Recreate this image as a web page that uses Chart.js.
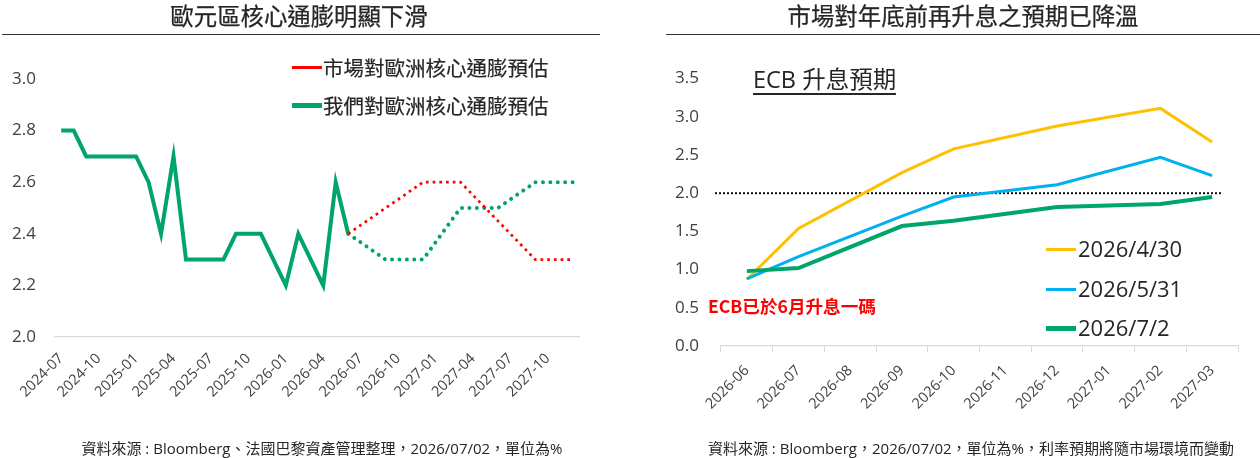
<!DOCTYPE html>
<html><head><meta charset="utf-8">
<script src="https://cdn.jsdelivr.net/npm/chart.js@4.4.1/dist/chart.umd.min.js"></script>
<style>
html,body{margin:0;padding:0;background:#fff;width:1260px;height:458px;overflow:hidden;position:relative;font-family:"Open Sans","Noto Sans CJK TC",sans-serif;color:#262626}
.abs{position:absolute;white-space:nowrap}
.title{font-family:"Noto Sans CJK TC",sans-serif;font-size:23.4px;line-height:30px;top:0px;transform:translateX(-50%);color:#262626;-webkit-text-stroke:0.25px #262626}
.rule{position:absolute;height:0;border-top:1.4px solid #333}
.note{font-size:15px;line-height:20px;top:438px;transform:translateX(-50%);color:#262626}
.lg{font-size:20.5px;line-height:28px;font-family:"Noto Sans CJK TC",sans-serif;-webkit-text-stroke:0.2px #262626}
.lgr{font-size:22px;line-height:30px;font-family:"Open Sans",sans-serif}
.sw{position:absolute}
canvas{position:absolute;top:0}
</style></head>
<body>
<canvas id="c1" width="630" height="458" style="left:0"></canvas>
<canvas id="c2" width="630" height="458" style="left:630px"></canvas>

<div class="abs title" style="left:299px">歐元區核心通膨明顯下滑</div>
<div class="rule" style="left:2px;width:598px;top:34px"></div>
<div class="abs title" style="left:963px">市場對年底前再升息之預期已降溫</div>
<div class="rule" style="left:666px;width:594px;top:34px"></div>

<div class="sw" style="left:292px;top:65.5px;width:30px;height:3px;background:#FF0000"></div>
<div class="abs lg" style="left:323px;top:53px">市場對歐洲核心通膨預估</div>
<div class="sw" style="left:292px;top:102.5px;width:30px;height:5px;background:#00A56C"></div>
<div class="abs lg" style="left:323px;top:91px">我們對歐洲核心通膨預估</div>

<div class="abs" style="left:753px;top:66px;font-family:'Open Sans','Noto Sans CJK TC',sans-serif;font-size:23.5px;line-height:27px;color:#262626;border-bottom:2px solid #262626;padding-bottom:0px">ECB 升息預期</div>
<div class="abs" style="left:708px;top:293px;font-family:'Noto Sans CJK TC',sans-serif;font-weight:bold;font-size:17.6px;line-height:26px;color:#FF0000">ECB已於6月升息一碼</div>

<div class="sw" style="left:1046px;top:247.5px;width:30px;height:3px;background:#FFC000"></div>
<div class="abs lgr" style="left:1078px;top:233px">2026/4/30</div>
<div class="sw" style="left:1046px;top:287.5px;width:30px;height:3px;background:#00B0F0"></div>
<div class="abs lgr" style="left:1078px;top:273px">2026/5/31</div>
<div class="sw" style="left:1046px;top:325.5px;width:30px;height:5px;background:#00A56C"></div>
<div class="abs lgr" style="left:1078px;top:312px">2026/7/2</div>

<div class="abs note" style="left:322px">資料來源 : Bloomberg、法國巴黎資產管理整理，2026/07/02，單位為%</div>
<div class="abs note" style="left:971px">資料來源 : Bloomberg，2026/07/02，單位為%，利率預期將隨市場環境而變動</div>

<script>
// ---------- Left chart data ----------
const leftMonths = ['2024-07','2024-08','2024-09','2024-10','2024-11','2024-12',
  '2025-01','2025-02','2025-03','2025-04','2025-05','2025-06','2025-07','2025-08','2025-09','2025-10','2025-11','2025-12',
  '2026-01','2026-02','2026-03','2026-04','2026-05','2026-06','2026-07','2026-08','2026-09','2026-10','2026-11','2026-12',
  '2027-01','2027-02','2027-03','2027-04','2027-05','2027-06','2027-07','2027-08','2027-09','2027-10','2027-11','2027-12'];
const actualCore = [2.8,2.8,2.7,2.7,2.7,2.7,2.7,2.6,2.4,2.7,2.3,2.3,2.3,2.3,2.4,2.4,2.4,2.3,2.2,2.4,2.3,2.2,2.6,2.4,
  null,null,null,null,null,null,null,null,null,null,null,null,null,null,null,null,null,null];
const ourForecast = [null,null,null,null,null,null,null,null,null,null,null,null,null,null,null,null,null,null,null,null,null,null,null,
  2.4,null,null,2.3,null,null,2.3,null,null,2.5,null,null,2.5,null,null,2.6,null,null,2.6];
const marketForecast = [null,null,null,null,null,null,null,null,null,null,null,null,null,null,null,null,null,null,null,null,null,null,null,
  2.4,null,null,2.5,null,null,2.6,null,null,2.6,null,null,2.45,null,null,2.3,null,null,2.3];
const leftYTicks = [2.0, 3.0, 0.2]; // min, max, step

// ---------- Right chart data ----------
const rightMonths = ['2026-06','2026-07','2026-08','2026-09','2026-10','2026-11','2026-12','2027-01','2027-02','2027-03'];
const exp0430 = [0.87,1.54,null,2.27,2.58,null,2.88,null,3.11,2.67];
const exp0531 = [0.88,1.17,null,1.70,1.95,null,2.11,null,2.47,2.23];
const exp0702 = [0.98,1.02,null,1.57,1.64,null,1.82,null,1.86,1.95];
const rightYTicks = [0, 3.5, 0.5];
const THRESHOLD = 2.0;

const GREEN = '#00A56C', RED = '#FF0000', YELLOW = '#FFC000', BLUE = '#00B0F0';
const tickFont = {family:"'Open Sans', sans-serif", size:14.5};
const yFont = {family:"'Open Sans', sans-serif", size:17};

new Chart(document.getElementById('c1'), {
  type:'line',
  data:{labels:leftMonths, datasets:[
    {label:'市場對歐洲核心通膨預估', data:marketForecast, borderColor:RED, borderWidth:2.7, borderDash:[2.7,4], spanGaps:true, pointRadius:0, tension:0},
    {label:'我們對歐洲核心通膨預估', data:ourForecast, borderColor:GREEN, borderWidth:4, borderDash:[0.01,7.4], borderCapStyle:'round', spanGaps:true, pointRadius:0, tension:0},
    {label:'我們對歐洲核心通膨預估', data:actualCore, borderColor:GREEN, borderWidth:4, pointRadius:0, tension:0}
  ]},
  options:{
    responsive:false, animation:false,
    layout:{padding:{left:0,right:51,top:79,bottom:0}},
    plugins:{legend:{display:false}, tooltip:{enabled:false}},
    scales:{
      x:{offset:true, grid:{display:false, drawTicks:false}, border:{display:true, color:'#d9d9d9', width:1.3},
        ticks:{autoSkip:false, maxRotation:45, minRotation:45, padding:13, color:'#404040', font:tickFont,
          callback:function(v,i){return i%3===0 ? this.getLabelForValue(v) : '';}},
        afterFit:function(s){s.height=121;}},
      y:{min:leftYTicks[0], max:leftYTicks[1], ticks:{stepSize:leftYTicks[2], padding:19, color:'#404040', font:yFont, callback:v=>Number(v).toFixed(1)},
        grid:{display:false, drawTicks:false}, border:{display:false},
        afterFit:function(s){s.width=55;}}
    }
  }
});

const thresholdPlugin = {
  id:'threshold',
  beforeDatasetsDraw(chart){
    const {ctx, chartArea, scales:{x, y}} = chart;
    const py = y.getPixelForValue(THRESHOLD);
    const x0 = chartArea.left - 6;
    const x1 = x.getPixelForValue(rightMonths.length - 1) + 10;
    ctx.save();
    ctx.strokeStyle = '#111'; ctx.lineWidth = 2; ctx.setLineDash([2,2]);
    ctx.beginPath(); ctx.moveTo(x0, py); ctx.lineTo(x1, py); ctx.stroke();
    ctx.restore();
  }
};

new Chart(document.getElementById('c2'), {
  type:'line',
  data:{labels:rightMonths, datasets:[
    {label:'2026/7/2', data:exp0702, borderColor:GREEN, borderWidth:4, spanGaps:true, pointRadius:0, tension:0},
    {label:'2026/5/31', data:exp0531, borderColor:BLUE, borderWidth:3, spanGaps:true, pointRadius:0, tension:0},
    {label:'2026/4/30', data:exp0430, borderColor:YELLOW, borderWidth:3, spanGaps:true, pointRadius:0, tension:0}
  ]},
  options:{
    responsive:false, animation:false,
    layout:{padding:{left:0,right:22,top:78.6,bottom:0}},
    plugins:{legend:{display:false}, tooltip:{enabled:false}},
    scales:{
      x:{offset:true, grid:{display:true, drawOnChartArea:false, drawTicks:true, tickLength:6, color:'#d9d9d9', offset:true},
        border:{display:true, color:'#d9d9d9', width:1.3},
        ticks:{autoSkip:false, maxRotation:45, minRotation:45, padding:10, color:'#404040', font:tickFont},
        afterFit:function(s){s.height=112;}},
      y:{min:rightYTicks[0], max:rightYTicks[1], ticks:{stepSize:rightYTicks[2], padding:22, color:'#404040', font:yFont, callback:v=>Number(v).toFixed(1)},
        grid:{display:false, drawTicks:false}, border:{display:false},
        afterFit:function(s){s.width=91;}}
    }
  },
  plugins:[thresholdPlugin]
});
</script>
</body></html>
